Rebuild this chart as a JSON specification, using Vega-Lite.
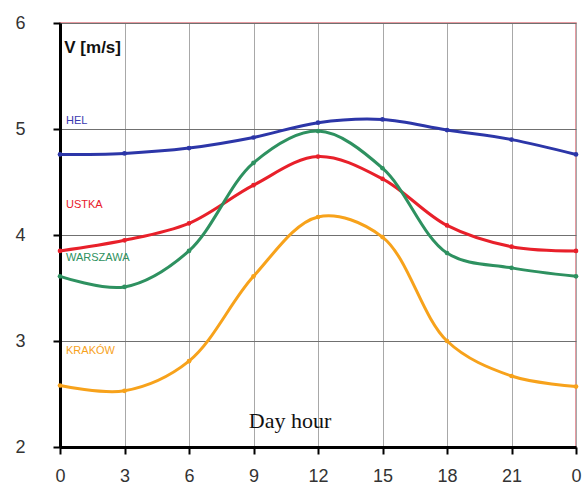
{
  "$schema": "https://vega.github.io/schema/vega-lite/v6.json",
  "width": 516,
  "height": 424,
  "autosize": {"type": "none"},
  "padding": {"left": 60, "top": 23, "right": 6, "bottom": 44},
  "background": "white",
  "config": {
    "view": {"stroke": "#e07a82", "strokeWidth": 1.5},
    "font": "Liberation Sans"
  },
  "layer": [
    {
      "data": {
        "values": [
          {"h": 0, "v": 4.76, "s": "HEL"}, {"h": 3, "v": 4.77, "s": "HEL"}, {"h": 6, "v": 4.82, "s": "HEL"},
          {"h": 9, "v": 4.92, "s": "HEL"}, {"h": 12, "v": 5.06, "s": "HEL"}, {"h": 15, "v": 5.09, "s": "HEL"},
          {"h": 18, "v": 4.99, "s": "HEL"}, {"h": 21, "v": 4.9, "s": "HEL"}, {"h": 24, "v": 4.76, "s": "HEL"},
          {"h": 0, "v": 3.85, "s": "USTKA"}, {"h": 3, "v": 3.95, "s": "USTKA"}, {"h": 6, "v": 4.11, "s": "USTKA"},
          {"h": 9, "v": 4.47, "s": "USTKA"}, {"h": 12, "v": 4.74, "s": "USTKA"}, {"h": 15, "v": 4.53, "s": "USTKA"},
          {"h": 18, "v": 4.09, "s": "USTKA"}, {"h": 21, "v": 3.89, "s": "USTKA"}, {"h": 24, "v": 3.85, "s": "USTKA"},
          {"h": 0, "v": 3.61, "s": "WARSZAWA"}, {"h": 3, "v": 3.51, "s": "WARSZAWA"}, {"h": 6, "v": 3.85, "s": "WARSZAWA"},
          {"h": 9, "v": 4.68, "s": "WARSZAWA"}, {"h": 12, "v": 4.98, "s": "WARSZAWA"}, {"h": 15, "v": 4.63, "s": "WARSZAWA"},
          {"h": 18, "v": 3.83, "s": "WARSZAWA"}, {"h": 21, "v": 3.69, "s": "WARSZAWA"}, {"h": 24, "v": 3.61, "s": "WARSZAWA"},
          {"h": 0, "v": 2.58, "s": "KRAKÓW"}, {"h": 3, "v": 2.53, "s": "KRAKÓW"}, {"h": 6, "v": 2.81, "s": "KRAKÓW"},
          {"h": 9, "v": 3.61, "s": "KRAKÓW"}, {"h": 12, "v": 4.17, "s": "KRAKÓW"}, {"h": 15, "v": 3.98, "s": "KRAKÓW"},
          {"h": 18, "v": 3.0, "s": "KRAKÓW"}, {"h": 21, "v": 2.67, "s": "KRAKÓW"}, {"h": 24, "v": 2.57, "s": "KRAKÓW"}
        ]
      },
      "encoding": {
        "x": {
          "field": "h", "type": "quantitative",
          "scale": {"domain": [0, 24], "nice": false, "zero": false},
          "axis": {
            "title": null, "values": [0, 3, 6, 9, 12, 15, 18, 21, 24], "format": "d",
            "labelExpr": "datum.value == 24 ? '0' : datum.label",
            "grid": true, "gridColor": "#a8a8a8", "gridWidth": 1,
            "domainColor": "black", "domainWidth": 3,
            "tickColor": "black", "tickWidth": 2, "tickSize": 7,
            "labelFont": "Liberation Sans", "labelFontSize": 18, "labelColor": "#333",
            "labelPadding": 13, "labelFlush": false
          }
        },
        "y": {
          "field": "v", "type": "quantitative",
          "scale": {"domain": [2, 6], "nice": false, "zero": false},
          "axis": {
            "title": null, "values": [2, 3, 4, 5, 6], "format": "d",
            "grid": true, "gridColor": "#707070", "gridWidth": 1,
            "domainColor": "black", "domainWidth": 3,
            "tickColor": "black", "tickWidth": 2, "tickSize": 7,
            "labelFont": "Liberation Sans", "labelFontSize": 18, "labelColor": "#333",
            "labelPadding": 28, "labelFlush": false
          }
        },
        "color": {
          "field": "s", "type": "nominal",
          "scale": {"domain": ["HEL", "USTKA", "WARSZAWA", "KRAKÓW"], "range": ["#2c36a8", "#e8202a", "#2e9160", "#f7a21b"]},
          "legend": null
        }
      },
      "layer": [
        {"mark": {"type": "line", "interpolate": "catmull-rom", "strokeWidth": 3}},
        {"mark": {"type": "circle", "size": 22, "opacity": 1}}
      ]
    },
    {"data": {"values": [{"t": "V [m/s]"}]}, "mark": {"type": "text", "align": "left", "baseline": "middle", "font": "Liberation Sans", "fontWeight": "bold", "fontSize": 17, "fill": "#111"},
     "encoding": {"text": {"field": "t"}, "x": {"datum": 0.2}, "y": {"datum": 5.76}}},
    {"data": {"values": [{"t": "Day hour"}]}, "mark": {"type": "text", "align": "center", "baseline": "middle", "font": "Liberation Serif", "fontSize": 22, "fill": "#111"},
     "encoding": {"text": {"field": "t"}, "x": {"datum": 10.7}, "y": {"datum": 2.25}}},
    {"data": {"values": [{"t": "HEL"}]}, "mark": {"type": "text", "align": "left", "baseline": "middle", "fontSize": 11, "fill": "#3a3ab0"},
     "encoding": {"text": {"field": "t"}, "x": {"datum": 0.28}, "y": {"datum": 5.08}}},
    {"data": {"values": [{"t": "USTKA"}]}, "mark": {"type": "text", "align": "left", "baseline": "middle", "fontSize": 11, "fill": "#e8202a"},
     "encoding": {"text": {"field": "t"}, "x": {"datum": 0.28}, "y": {"datum": 4.28}}},
    {"data": {"values": [{"t": "WARSZAWA"}]}, "mark": {"type": "text", "align": "left", "baseline": "middle", "fontSize": 11, "fill": "#2e9160"},
     "encoding": {"text": {"field": "t"}, "x": {"datum": 0.28}, "y": {"datum": 3.78}}},
    {"data": {"values": [{"t": "KRAKÓW"}]}, "mark": {"type": "text", "align": "left", "baseline": "middle", "fontSize": 11, "fill": "#f7a21b"},
     "encoding": {"text": {"field": "t"}, "x": {"datum": 0.28}, "y": {"datum": 2.91}}}
  ]
}
